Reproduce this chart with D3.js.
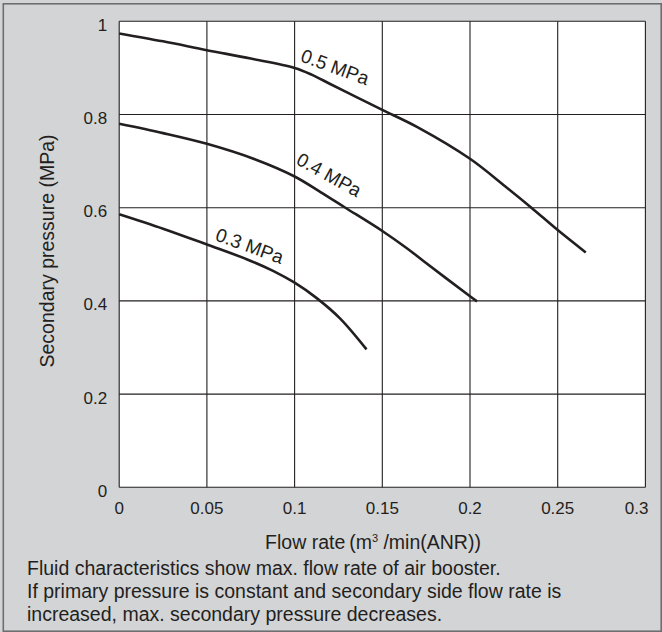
<!DOCTYPE html>
<html>
<head>
<meta charset="utf-8">
<script src="https://cdn.jsdelivr.net/npm/d3@7"></script>
<style>
  html, body { margin: 0; padding: 0; background: #d3d4d6; }
  svg { display: block; }
  text { font-family: "Liberation Sans", Arial, Helvetica, sans-serif; fill: #231f20; }
</style>
</head>
<body>
<svg id="chart" width="662" height="632"></svg>
<script>
// ---- data ----
const xTicks = [0, 0.05, 0.1, 0.15, 0.2, 0.25, 0.3];
const xTickLabels = ["0", "0.05", "0.1", "0.15", "0.2", "0.25", "0.3"];
const yTicks = [0, 0.2, 0.4, 0.6, 0.8, 1];
const yTickLabels = ["0", "0.2", "0.4", "0.6", "0.8", "1"];

const seriesNames = ["0.5 MPa", "0.4 MPa", "0.3 MPa"];
const flow05 = [0, 0.025, 0.05, 0.075, 0.1, 0.11, 0.12, 0.135, 0.15, 0.17, 0.2, 0.22, 0.235, 0.25, 0.266];
const pres05 = [0.974, 0.957, 0.938, 0.920, 0.900, 0.885, 0.866, 0.838, 0.810, 0.773, 0.705, 0.646, 0.600, 0.552, 0.504];
const flow04 = [0, 0.025, 0.05, 0.078, 0.1, 0.115, 0.1285, 0.15, 0.164, 0.174, 0.2, 0.204];
const pres04 = [0.780, 0.760, 0.737, 0.703, 0.667, 0.633, 0.601, 0.550, 0.513, 0.484, 0.410, 0.399];
const flow03 = [0, 0.025, 0.05, 0.073, 0.088, 0.1, 0.1126, 0.126, 0.141];
const pres03 = [0.586, 0.555, 0.521, 0.489, 0.464, 0.439, 0.406, 0.362, 0.296];

const xTitle = "Flow rate";
const yTitle = "Secondary pressure (MPa)";
const footnote = [
  "Fluid characteristics show max. flow rate of air booster.",
  "If primary pressure is constant and secondary side flow rate is",
  "increased, max. secondary pressure decreases."
];

// ---- layout ----
const W = 662, H = 632;
const plot = { left: 119.2, right: 645.4, top: 21.3, bottom: 487.3 };
const ink = "#231f20";

const svg = d3.select("#chart");

// outer frame
svg.append("rect")
  .attr("x", 3.3).attr("y", 3.8)
  .attr("width", W - 3.3 - 0.8).attr("height", H - 3.8 - 0.8)
  .attr("fill", "#d3d4d6")
  .attr("stroke", "#6d6e70").attr("stroke-width", 1.6);

const x = d3.scaleLinear().domain([0, 0.3]).range([plot.left, plot.right]);
const y = d3.scaleLinear().domain([0, 1]).range([plot.bottom, plot.top]);

// plot background
svg.append("rect")
  .attr("x", plot.left).attr("y", plot.top)
  .attr("width", plot.right - plot.left).attr("height", plot.bottom - plot.top)
  .attr("fill", "#ffffff");

// grid
const grid = svg.append("g").attr("stroke", ink).attr("stroke-width", 1.1);
grid.selectAll("line.v").data(xTicks).join("line")
  .attr("class", "v")
  .attr("x1", d => x(d)).attr("x2", d => x(d))
  .attr("y1", plot.top).attr("y2", plot.bottom);
grid.selectAll("line.h").data(yTicks).join("line")
  .attr("class", "h")
  .attr("x1", plot.left).attr("x2", plot.right)
  .attr("y1", d => y(d)).attr("y2", d => y(d));

// tick labels
svg.append("g").selectAll("text").data(xTicks).join("text")
  .attr("x", (d, i) => i === xTicks.length - 1 ? x(d) + 3 : x(d))
  .attr("y", 514)
  .attr("text-anchor", (d, i) => i === xTicks.length - 1 ? "end" : "middle")
  .attr("font-size", 17)
  .text((d, i) => xTickLabels[i]);

svg.append("g").selectAll("text").data(yTicks).join("text")
  .attr("x", plot.left - 12)
  .attr("y", d => y(d) + 9.4)
  .attr("text-anchor", "end")
  .attr("font-size", 17)
  .text((d, i) => yTickLabels[i]);

// curves
const series = [
  { name: seriesNames[0], xs: flow05, ys: pres05 },
  { name: seriesNames[1], xs: flow04, ys: pres04 },
  { name: seriesNames[2], xs: flow03, ys: pres03 }
];
const line = d3.line()
  .x(d => x(d[0])).y(d => y(d[1]))
  .curve(d3.curveCatmullRom.alpha(0.5));
svg.append("g").selectAll("path").data(series).join("path")
  .attr("d", s => line(s.xs.map((v, i) => [v, s.ys[i]])))
  .attr("fill", "none")
  .attr("stroke", ink)
  .attr("stroke-width", 2.6)
  .attr("stroke-linecap", "butt");

// curve labels (placed along curves, sitting just above them)
const labelPos = [
  { at: [0.1225, 0.896], angle: 20 },
  { at: [0.1188, 0.665], angle: 29 },
  { at: [0.0738, 0.512], angle: 20 }
];
svg.append("g").selectAll("text").data(series).join("text")
  .attr("transform", (s, i) => `translate(${x(labelPos[i].at[0])},${y(labelPos[i].at[1])}) rotate(${labelPos[i].angle})`)
  .attr("text-anchor", "middle")
  .attr("dy", 3.6)
  .attr("font-size", 19)
  .text(s => s.name);

// axis titles
const xt = svg.append("text")
  .attr("x", 373).attr("y", 549)
  .attr("text-anchor", "middle")
  .attr("font-size", 19.5);
xt.append("tspan").text(xTitle + "\u2009(m");
xt.append("tspan").attr("font-size", 11).attr("dy", -7).text("3");
xt.append("tspan").attr("dy", 7).text(" /min(ANR))");

svg.append("text")
  .attr("transform", `translate(53.5,251) rotate(-90)`)
  .attr("text-anchor", "middle")
  .attr("font-size", 19.5)
  .text(yTitle);

// footnote
svg.append("g").selectAll("text").data(footnote).join("text")
  .attr("x", 27)
  .attr("y", (d, i) => 575 + i * 23)
  .attr("font-size", 19.5)
  .text(d => d);
</script>
</body>
</html>
